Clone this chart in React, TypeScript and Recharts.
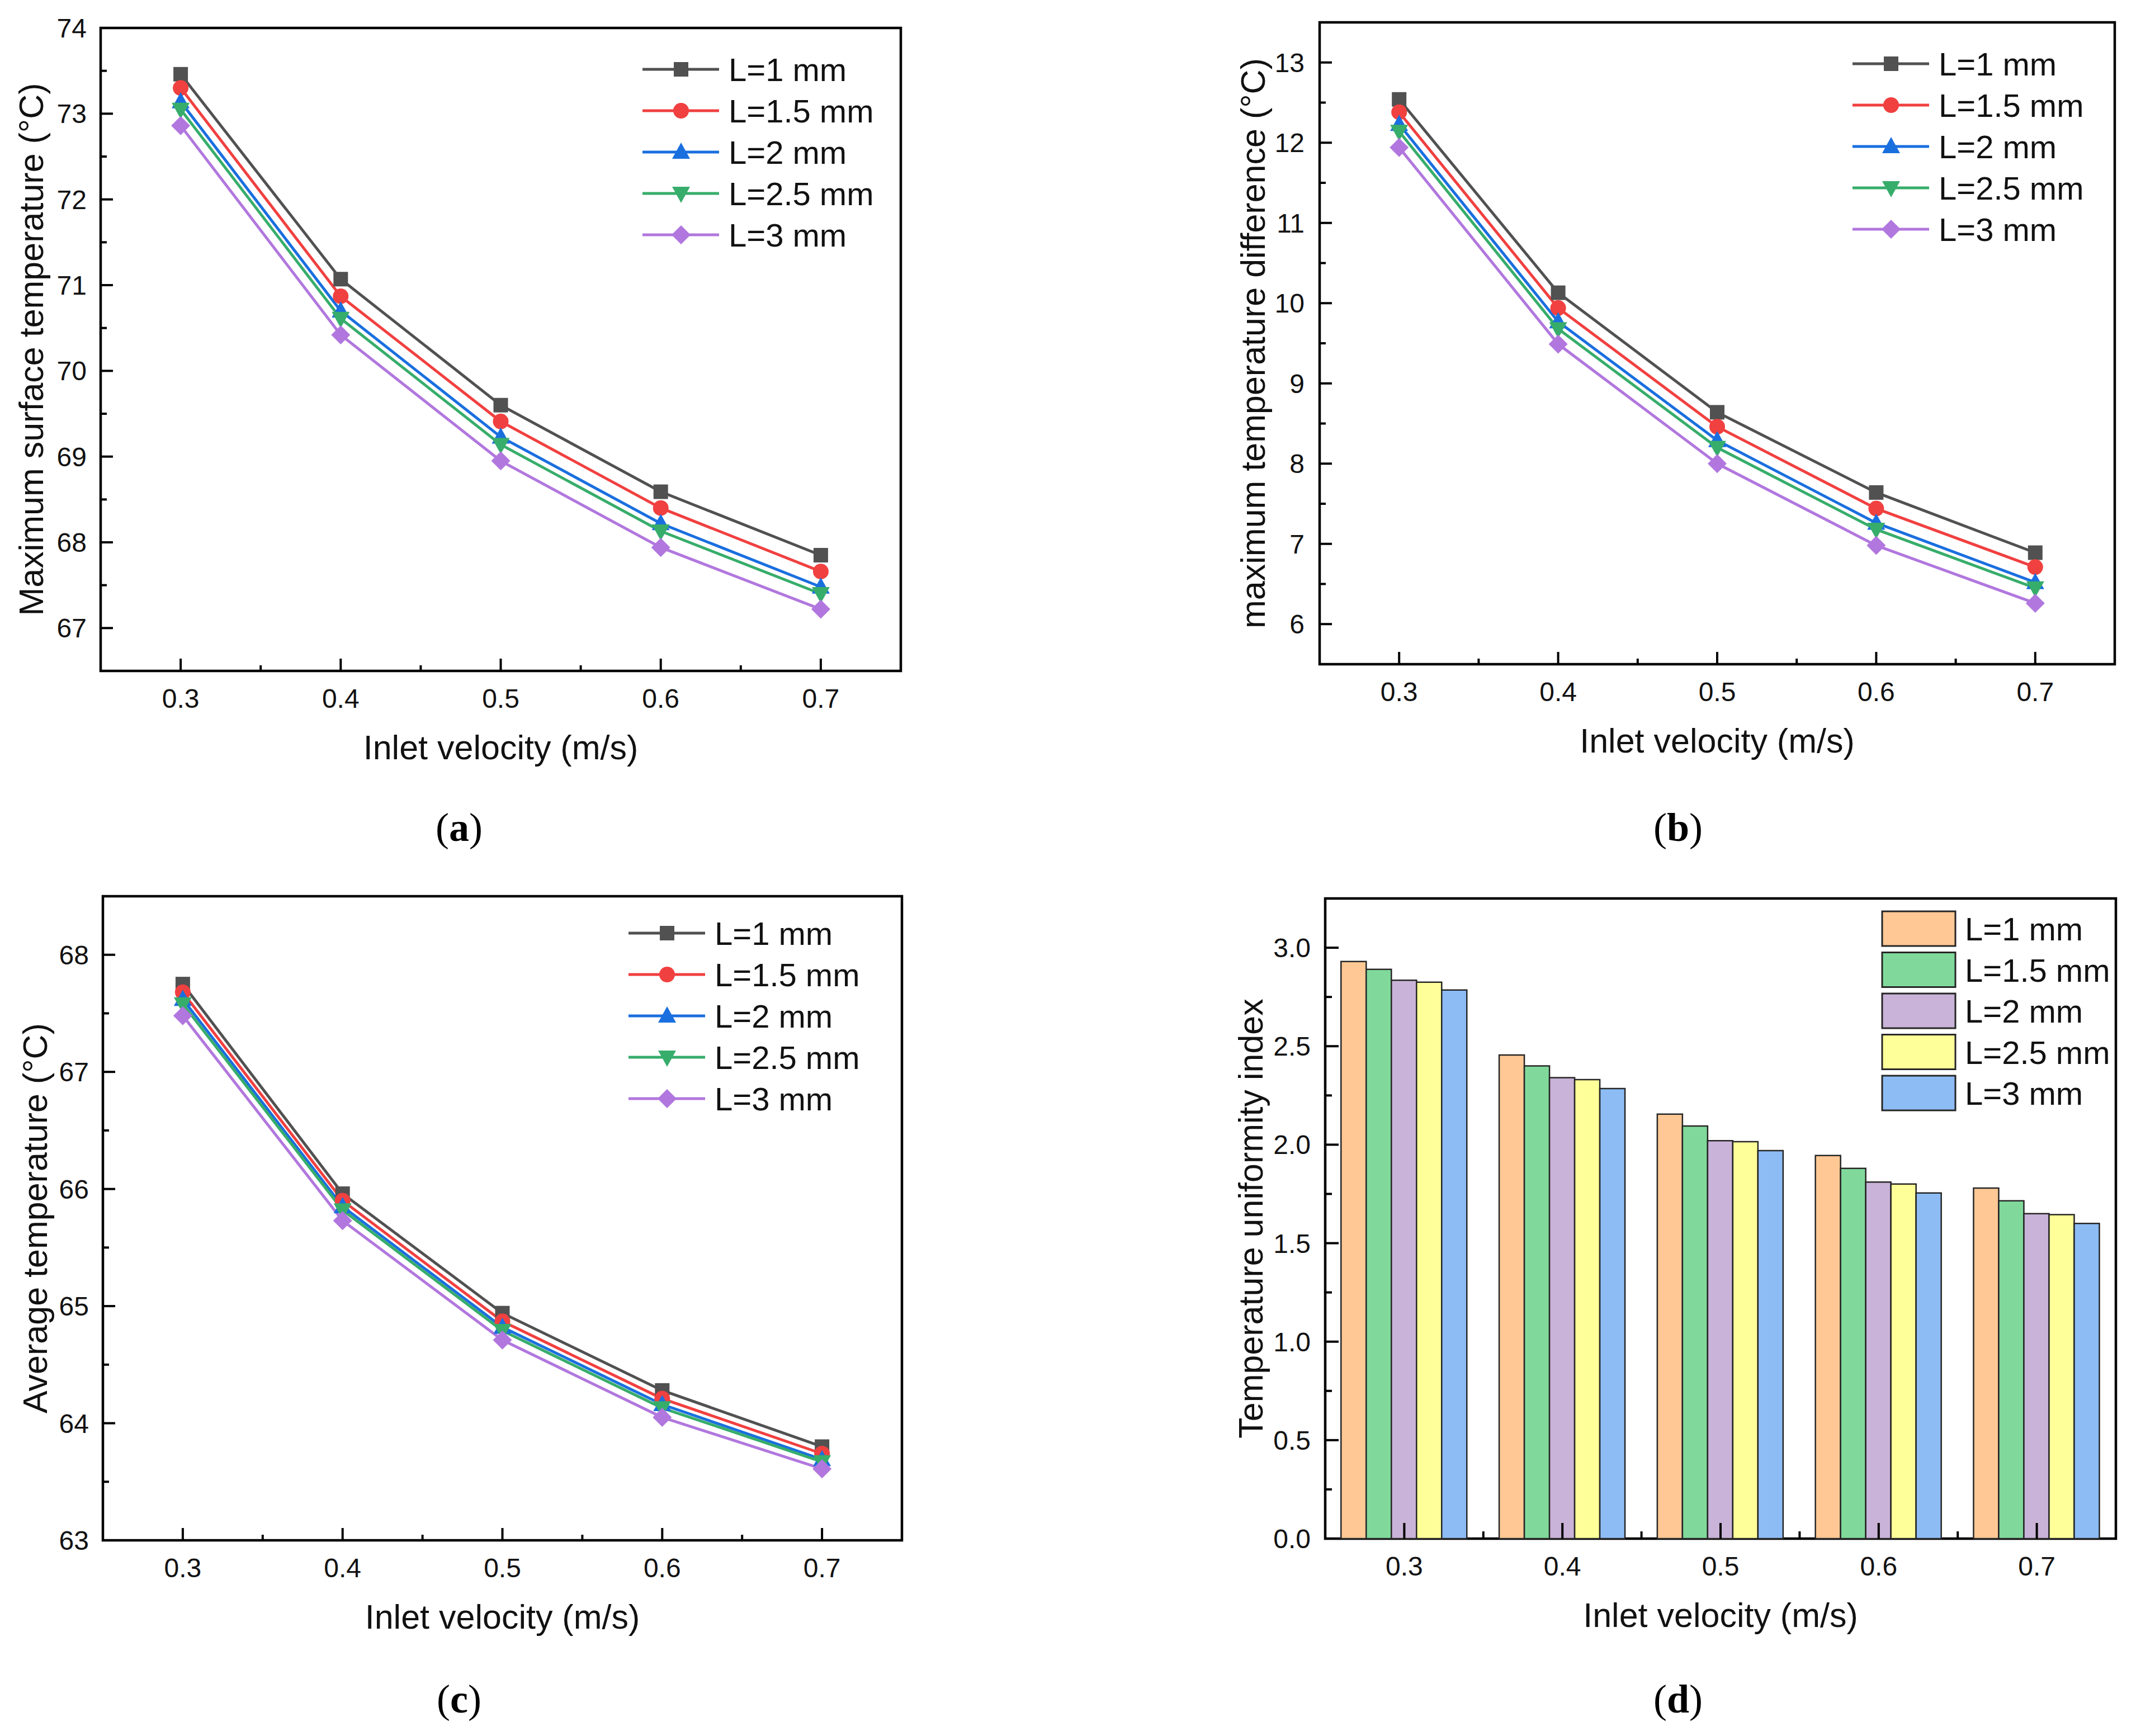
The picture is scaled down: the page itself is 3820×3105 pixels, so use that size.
import React from "react";
import {
  LineChart,
  Line,
  BarChart,
  Bar,
  XAxis,
  YAxis,
  ReferenceArea,
  Legend,
  Label,
} from "recharts";

// shared categories
const velocity = [0.3, 0.4, 0.5, 0.6, 0.7];
const velocityLabels = ["0.3", "0.4", "0.5", "0.6", "0.7"];
const seriesNames = ["L=1 mm", "L=1.5 mm", "L=2 mm", "L=2.5 mm", "L=3 mm"];
const lineColors = ["#515151", "#F14040", "#1A6FDF", "#37AD6B", "#B177DE"];
const markerShapes = ["square", "circle", "triangle", "triangleDown", "diamond"];
const barColors = ["#FFC894", "#80D99B", "#C9B3D8", "#FFFF99", "#8DBCF5"];

// x ticks
const xMajor = [0.3, 0.4, 0.5, 0.6, 0.7];
const xMinor = [0.35, 0.45, 0.55, 0.65];

// (a) maximum surface temperature
const surfL1 = [73.46, 71.07, 69.6, 68.59, 67.85];
const surfL15 = [73.3, 70.87, 69.41, 68.4, 67.66];
const surfL2 = [73.14, 70.7, 69.23, 68.22, 67.48];
const surfL25 = [73.05, 70.61, 69.14, 68.13, 67.4];
const surfL3 = [72.86, 70.42, 68.95, 67.94, 67.22];
const surfMajor = [67, 68, 69, 70, 71, 72, 73, 74];
const surfMinor = [67.5, 68.5, 69.5, 70.5, 71.5, 72.5, 73.5];

// (b) maximum temperature difference
const diffL1 = [12.54, 10.13, 8.64, 7.64, 6.89];
const diffL15 = [12.38, 9.94, 8.46, 7.44, 6.71];
const diffL2 = [12.23, 9.77, 8.29, 7.26, 6.52];
const diffL25 = [12.14, 9.68, 8.2, 7.18, 6.45];
const diffL3 = [11.94, 9.49, 8.0, 6.98, 6.26];
const diffMajor = [6, 7, 8, 9, 10, 11, 12, 13];
const diffMinor = [6.5, 7.5, 8.5, 9.5, 10.5, 11.5, 12.5];

// (c) average temperature
const avgL1 = [67.75, 65.96, 64.94, 64.28, 63.8];
const avgL15 = [67.68, 65.9, 64.87, 64.21, 63.74];
const avgL2 = [67.62, 65.85, 64.82, 64.16, 63.69];
const avgL25 = [67.58, 65.82, 64.79, 64.13, 63.67];
const avgL3 = [67.48, 65.73, 64.71, 64.05, 63.61];
const avgMajor = [63, 64, 65, 66, 67, 68];
const avgMinor = [63.5, 64.5, 65.5, 66.5, 67.5];

// (d) temperature uniformity index
const uniL1 = [2.93, 2.455, 2.155, 1.945, 1.78];
const uniL15 = [2.89, 2.4, 2.095, 1.88, 1.715];
const uniL2 = [2.835, 2.34, 2.02, 1.81, 1.65];
const uniL25 = [2.825, 2.33, 2.015, 1.8, 1.645];
const uniL3 = [2.785, 2.285, 1.97, 1.755, 1.6];
const uniMajor = [0, 0.5, 1, 1.5, 2, 2.5, 3];
const uniMinor = [0.25, 0.75, 1.25, 1.75, 2.25, 2.75];

const SANS = "Liberation Sans, Arial, sans-serif";
const SERIF = "Liberation Serif, Times New Roman, serif";
const TICK_FONT = 48;
const TITLE_FONT = 61;
const LEGEND_FONT = 58;

function Marker({ cx, cy, shape, color }: any) {
  if (cx == null || cy == null) return null;
  if (shape === "square")
    return <rect x={cx - 13} y={cy - 13} width={26} height={26} fill={color} />;
  if (shape === "circle") return <circle cx={cx} cy={cy} r={14} fill={color} />;
  if (shape === "triangle")
    return (
      <polygon
        points={`${cx},${cy - 17} ${cx + 16},${cy + 12} ${cx - 16},${cy + 12}`}
        fill={color}
      />
    );
  if (shape === "triangleDown")
    return (
      <polygon
        points={`${cx},${cy + 17} ${cx + 16},${cy - 12} ${cx - 16},${cy - 12}`}
        fill={color}
      />
    );
  return (
    <polygon
      points={`${cx},${cy - 17} ${cx + 17},${cy} ${cx},${cy + 17} ${cx - 17},${cy}`}
      fill={color}
    />
  );
}

function YTick({ x, y, payload, majors, gap, fmt, majorLen, minorLen }: any) {
  const major = majors.includes(payload.value);
  return (
    <g>
      <line
        x1={x}
        x2={x + (major ? majorLen : minorLen)}
        y1={y}
        y2={y}
        stroke="#000"
        strokeWidth={4}
      />
      {major && (
        <text
          x={x - gap}
          y={y}
          dy={17}
          textAnchor="end"
          fontSize={TICK_FONT}
          fontFamily={SANS}
          fill="#111"
        >
          {fmt(payload.value)}
        </text>
      )}
    </g>
  );
}

function XTick({ x, y, payload, majors }: any) {
  const major = majors.includes(payload.value);
  return (
    <g>
      <line x1={x} x2={x} y1={y} y2={y - (major ? 22 : 10)} stroke="#000" strokeWidth={4} />
      {major && (
        <text
          x={x}
          y={y + 66}
          textAnchor="middle"
          fontSize={TICK_FONT}
          fontFamily={SANS}
          fill="#111"
        >
          {payload.value.toFixed(1)}
        </text>
      )}
    </g>
  );
}

function CatTick({ x, y, payload, half, count }: any) {
  return (
    <g>
      <line x1={x} x2={x} y1={y} y2={y - 28} stroke="#000" strokeWidth={4} />
      {payload.index < count - 1 && (
        <line x1={x + half} x2={x + half} y1={y} y2={y - 13} stroke="#000" strokeWidth={4} />
      )}
      <text
        x={x}
        y={y + 66}
        textAnchor="middle"
        fontSize={TICK_FONT}
        fontFamily={SANS}
        fill="#111"
      >
        {payload.value}
      </text>
    </g>
  );
}

function LineLegend() {
  return (
    <svg width={560} height={400}>
      {seriesNames.map((n, i) => {
        const y = 37 + i * 74;
        return (
          <g key={n}>
            <line x1={0} x2={137} y1={y} y2={y} stroke={lineColors[i]} strokeWidth={5} />
            <Marker cx={69} cy={y} shape={markerShapes[i]} color={lineColors[i]} />
            <text x={154} y={y} dy={21} fontSize={LEGEND_FONT} fontFamily={SANS} fill="#111">
              {n}
            </text>
          </g>
        );
      })}
    </svg>
  );
}

function BarLegend() {
  return (
    <svg width={560} height={400}>
      {seriesNames.map((n, i) => {
        const y = 37 + i * 73.5;
        return (
          <g key={n}>
            <rect
              x={2}
              y={y - 31}
              width={131}
              height={62}
              fill={barColors[i]}
              stroke="#262626"
              strokeWidth={3}
            />
            <text x={150} y={y} dy={21} fontSize={LEGEND_FONT} fontFamily={SANS} fill="#111">
              {n}
            </text>
          </g>
        );
      })}
    </svg>
  );
}

function Titles({ box, left, top, yTitle, yTitleX, tag, tagX, tagY }: any) {
  const [x0, y0, x1, y1] = box;
  return (
    <g>
      <text
        x={(x0 + x1) / 2 - left}
        y={y1 - top + 136}
        dy={22}
        textAnchor="middle"
        fontSize={TITLE_FONT}
        fontFamily={SANS}
        fill="#111"
      >
        Inlet velocity (m/s)
      </text>
      <text
        transform={`translate(${yTitleX - left}, ${(y0 + y1) / 2 - top}) rotate(-90)`}
        dy={22}
        textAnchor="middle"
        fontSize={TITLE_FONT}
        fontFamily={SANS}
        fill="#111"
      >
        {yTitle}
      </text>
      <text
        x={tagX - left}
        y={tagY - top}
        dy={18}
        textAnchor="middle"
        fontSize={72}
        fontFamily={SERIF}
        fill="#000"
      >
        (<tspan fontWeight="bold">{tag}</tspan>)
      </text>
    </g>
  );
}

function LinePanel(p: any) {
  const [x0, y0, x1, y1] = p.box;
  const rows = velocity.map((v, i) => {
    const r: any = { v };
    p.series.forEach((s: number[], k: number) => (r["s" + k] = s[i]));
    return r;
  });
  const xTicks = [...xMajor, ...xMinor].sort((a, b) => a - b);
  const yTicks = [...p.yMajor, ...p.yMinor].sort((a: number, b: number) => a - b);
  return (
    <div style={{ position: "absolute", left: p.left, top: p.top }}>
      <LineChart
        width={p.width}
        height={p.height}
        data={rows}
        margin={{ top: y0 - p.top, right: p.left + p.width - x1, bottom: 0, left: 0 }}
      >
        <XAxis
          dataKey="v"
          type="number"
          domain={[0.25, 0.75]}
          ticks={xTicks}
          interval={0}
          axisLine={false}
          tickLine={false}
          tickSize={0}
          tickMargin={0}
          height={p.top + p.height - y1}
          tick={(t: any) => <XTick {...t} majors={xMajor} />}
        >
          <Label
            content={() => (
              <Titles
                box={p.box}
                left={p.left}
                top={p.top}
                yTitle={p.yTitle}
                yTitleX={p.yTitleX}
                tag={p.tag}
                tagX={p.tagX}
                tagY={p.tagY}
              />
            )}
          />
        </XAxis>
        <YAxis
          type="number"
          domain={p.yDomain}
          ticks={yTicks}
          interval={0}
          axisLine={false}
          tickLine={false}
          tickSize={0}
          tickMargin={0}
          width={x0 - p.left}
          tick={(t: any) => (
            <YTick
              {...t}
              majors={p.yMajor}
              gap={p.yGap}
              majorLen={22}
              minorLen={11}
              fmt={(v: number) => String(v)}
            />
          )}
        />
        {p.series.map((_: number[], k: number) => (
          <Line
            key={k}
            type="linear"
            dataKey={"s" + k}
            name={seriesNames[k]}
            stroke={lineColors[k]}
            strokeWidth={5}
            isAnimationActive={false}
            dot={(d: any) => (
              <Marker
                key={`${k}-${d.index}`}
                cx={d.cx}
                cy={d.cy}
                shape={markerShapes[k]}
                color={lineColors[k]}
              />
            )}
            activeDot={false}
          />
        ))}
        <ReferenceArea
          x1={0.25}
          x2={0.75}
          y1={p.yDomain[0]}
          y2={p.yDomain[1]}
          fill="none"
          fillOpacity={0}
          stroke="#000"
          strokeWidth={4.5}
          ifOverflow="visible"
        />
        <Legend
          layout="vertical"
          align="center"
          verticalAlign="middle"
          wrapperStyle={{
            left: p.legend[0] - p.left,
            top: p.legend[1] - p.top - 37,
            width: 560,
            height: 400,
          }}
          content={() => <LineLegend />}
        />
      </LineChart>
    </div>
  );
}

function BarPanel(p: any) {
  const [x0, y0, x1, y1] = p.box;
  const rows = velocityLabels.map((v, i) => {
    const r: any = { v };
    p.series.forEach((s: number[], k: number) => (r["s" + k] = s[i]));
    return r;
  });
  const yTicks = [...uniMajor, ...uniMinor].sort((a, b) => a - b);
  const half = (x1 - x0) / velocityLabels.length / 2;
  return (
    <div style={{ position: "absolute", left: p.left, top: p.top }}>
      <BarChart
        width={p.width}
        height={p.height}
        data={rows}
        barCategoryGap="10%"
        barGap={0}
        margin={{ top: y0 - p.top, right: p.left + p.width - x1, bottom: 0, left: 0 }}
      >
        <XAxis
          dataKey="v"
          type="category"
          interval={0}
          axisLine={false}
          tickLine={false}
          tickSize={0}
          tickMargin={0}
          height={p.top + p.height - y1}
          tick={(t: any) => <CatTick {...t} half={half} count={velocityLabels.length} />}
        >
          <Label
            content={() => (
              <Titles
                box={p.box}
                left={p.left}
                top={p.top}
                yTitle={p.yTitle}
                yTitleX={p.yTitleX}
                tag={p.tag}
                tagX={p.tagX}
                tagY={p.tagY}
              />
            )}
          />
        </XAxis>
        <YAxis
          type="number"
          domain={[0, 3.25]}
          ticks={yTicks}
          interval={0}
          axisLine={false}
          tickLine={false}
          tickSize={0}
          tickMargin={0}
          width={x0 - p.left}
          tick={(t: any) => (
            <YTick
              {...t}
              majors={uniMajor}
              gap={p.yGap}
              majorLen={24}
              minorLen={12}
              fmt={(v: number) => v.toFixed(1)}
            />
          )}
        />
        {p.series.map((_: number[], k: number) => (
          <Bar
            key={k}
            dataKey={"s" + k}
            name={seriesNames[k]}
            fill={barColors[k]}
            stroke="#262626"
            strokeWidth={2.5}
            isAnimationActive={false}
          />
        ))}
        <ReferenceArea
          x1="0.3"
          x2="0.7"
          y1={0}
          y2={3.25}
          fill="none"
          fillOpacity={0}
          stroke="#000"
          strokeWidth={4.5}
          ifOverflow="visible"
        />
        <Legend
          layout="vertical"
          align="center"
          verticalAlign="middle"
          wrapperStyle={{
            left: p.legend[0] - p.left,
            top: p.legend[1] - p.top - 37,
            width: 560,
            height: 400,
          }}
          content={() => <BarLegend />}
        />
      </BarChart>
    </div>
  );
}

export default function App() {
  return (
    <div
      style={{
        position: "absolute",
        left: 0,
        top: 0,
        width: 3820,
        height: 3105,
        background: "#fff",
        overflow: "hidden",
      }}
    >
      <LinePanel
        left={0}
        top={0}
        width={1900}
        height={1545}
        box={[180, 50, 1611, 1200]}
        yDomain={[66.5, 74]}
        yMajor={surfMajor}
        yMinor={surfMinor}
        yGap={25}
        yTitle="Maximum surface temperature (°C)"
        yTitleX={55}
        series={[surfL1, surfL15, surfL2, surfL25, surfL3]}
        legend={[1149, 124]}
        tag="a"
        tagX={821}
        tagY={1486}
      />
      <LinePanel
        left={1910}
        top={0}
        width={1910}
        height={1545}
        box={[2360, 40, 3782, 1188]}
        yDomain={[5.5, 13.5]}
        yMajor={diffMajor}
        yMinor={diffMinor}
        yGap={27}
        yTitle="maximum temperature difference (°C)"
        yTitleX={2240}
        series={[diffL1, diffL15, diffL2, diffL25, diffL3]}
        legend={[3313, 114]}
        tag="b"
        tagX={3001}
        tagY={1486}
      />
      <LinePanel
        left={0}
        top={1545}
        width={1900}
        height={1560}
        box={[184, 1603, 1613, 2755]}
        yDomain={[63, 68.5]}
        yMajor={avgMajor}
        yMinor={avgMinor}
        yGap={25}
        yTitle="Average temperature (°C)"
        yTitleX={62}
        series={[avgL1, avgL15, avgL2, avgL25, avgL3]}
        legend={[1124, 1669]}
        tag="c"
        tagX={821}
        tagY={3045}
      />
      <BarPanel
        left={1910}
        top={1545}
        width={1910}
        height={1560}
        box={[2370, 1607, 3784, 2752]}
        yGap={26}
        yTitle="Temperature uniformity index"
        yTitleX={2236}
        series={[uniL1, uniL15, uniL2, uniL25, uniL3]}
        legend={[3364, 1661]}
        tag="d"
        tagX={3001}
        tagY={3045}
      />
    </div>
  );
}
